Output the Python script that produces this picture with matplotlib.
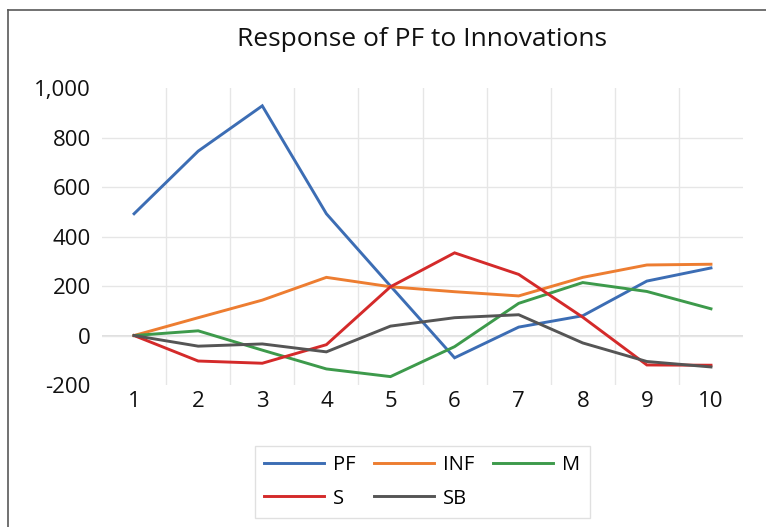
import matplotlib
matplotlib.use("Agg")
import matplotlib.pyplot as plt
from matplotlib.lines import Line2D

plt.rcParams['font.family'] = ['Open Sans', 'DejaVu Sans']

# ---------------- DATA ----------------
periods = [1, 2, 3, 4, 5, 6, 7, 8, 9, 10]
pf = [492, 745, 928, 492, 200, -90, 34, 80, 220, 273]
inf = [0, 72, 143, 235, 197, 177, 160, 235, 285, 288]
m = [0, 19, -59, -135, -166, -45, 130, 214, 178, 108]
s = [0, -103, -112, -37, 197, 334, 247, 74, -119, -120]
sb = [0, -43, -34, -66, 38, 72, 84, -30, -105, -127]
yticks = [-200, 0, 200, 400, 600, 800, 1000]

names = ["PF", "INF", "M", "S", "SB"]
series = [pf, inf, m, s, sb]
colors = ["#3C6DB4", "#ED7D31", "#3D9A4B", "#D42A2A", "#555555"]

# ---------------- PLOT ----------------
fig = plt.figure(figsize=(7.66, 5.27), dpi=100)
ax = fig.add_axes([0.1332, 0.2694, 0.8368, 0.5636])

lines = {}
for name, vals, c in zip(names, series, colors):
    lines[name], = ax.plot(periods, vals, color=c, lw=2.1, solid_joinstyle="miter")

ax.set_xlim(0.5, 10.5)
ax.set_ylim(-200, 1000)
ax.set_xticks(periods)
ax.set_yticks(yticks)
ax.set_yticklabels([f"{v:,}" for v in yticks])
ax.set_xticks([p + 0.5 for p in periods[:-1]], minor=True)

ax.tick_params(axis="both", which="both", length=0, labelsize=16, colors="#111111")
ax.tick_params(axis="y", pad=8)
ax.tick_params(axis="x", pad=4)

ax.grid(axis="x", which="minor", color="#E6E6E6", lw=1)
ax.grid(axis="y", which="major", color="#E6E6E6", lw=1)
ax.grid(axis="x", which="major", visible=False)
ygl = ax.yaxis.get_gridlines()
ygl[0].set_visible(False)
ygl[-1].set_visible(False)
ax.axhline(0, color="#D9D9D9", lw=1.2, zorder=1)

for sp in ax.spines.values():
    sp.set_visible(False)

fig.text(0.551, 0.925, "Response of PF to Innovations", ha="center", va="center",
         fontsize=19, color="#111111")

order = ["PF", "S", "INF", "SB", "M"]
leg = fig.legend([lines[n] for n in order], order, loc="center",
                 bbox_to_anchor=(0.551, 0.0854), ncol=3, fontsize=14.5,
                 handlelength=3.0, handletextpad=0.45, columnspacing=0.9,
                 labelspacing=0.65, frameon=True, fancybox=False,
                 borderpad=0.45)
leg.get_frame().set_edgecolor("#D9D9D9")
leg.get_frame().set_linewidth(1)

# outer frame (top and left edges visible)
fig.add_artist(Line2D([8 / 766, 1], [1 - 10 / 527, 1 - 10 / 527],
                      transform=fig.transFigure, color="#595959", lw=1.2))
fig.add_artist(Line2D([8 / 766, 8 / 766], [0, 1 - 10 / 527],
                      transform=fig.transFigure, color="#595959", lw=1.2))

plt.savefig("out.png", dpi=100)
plt.close()
